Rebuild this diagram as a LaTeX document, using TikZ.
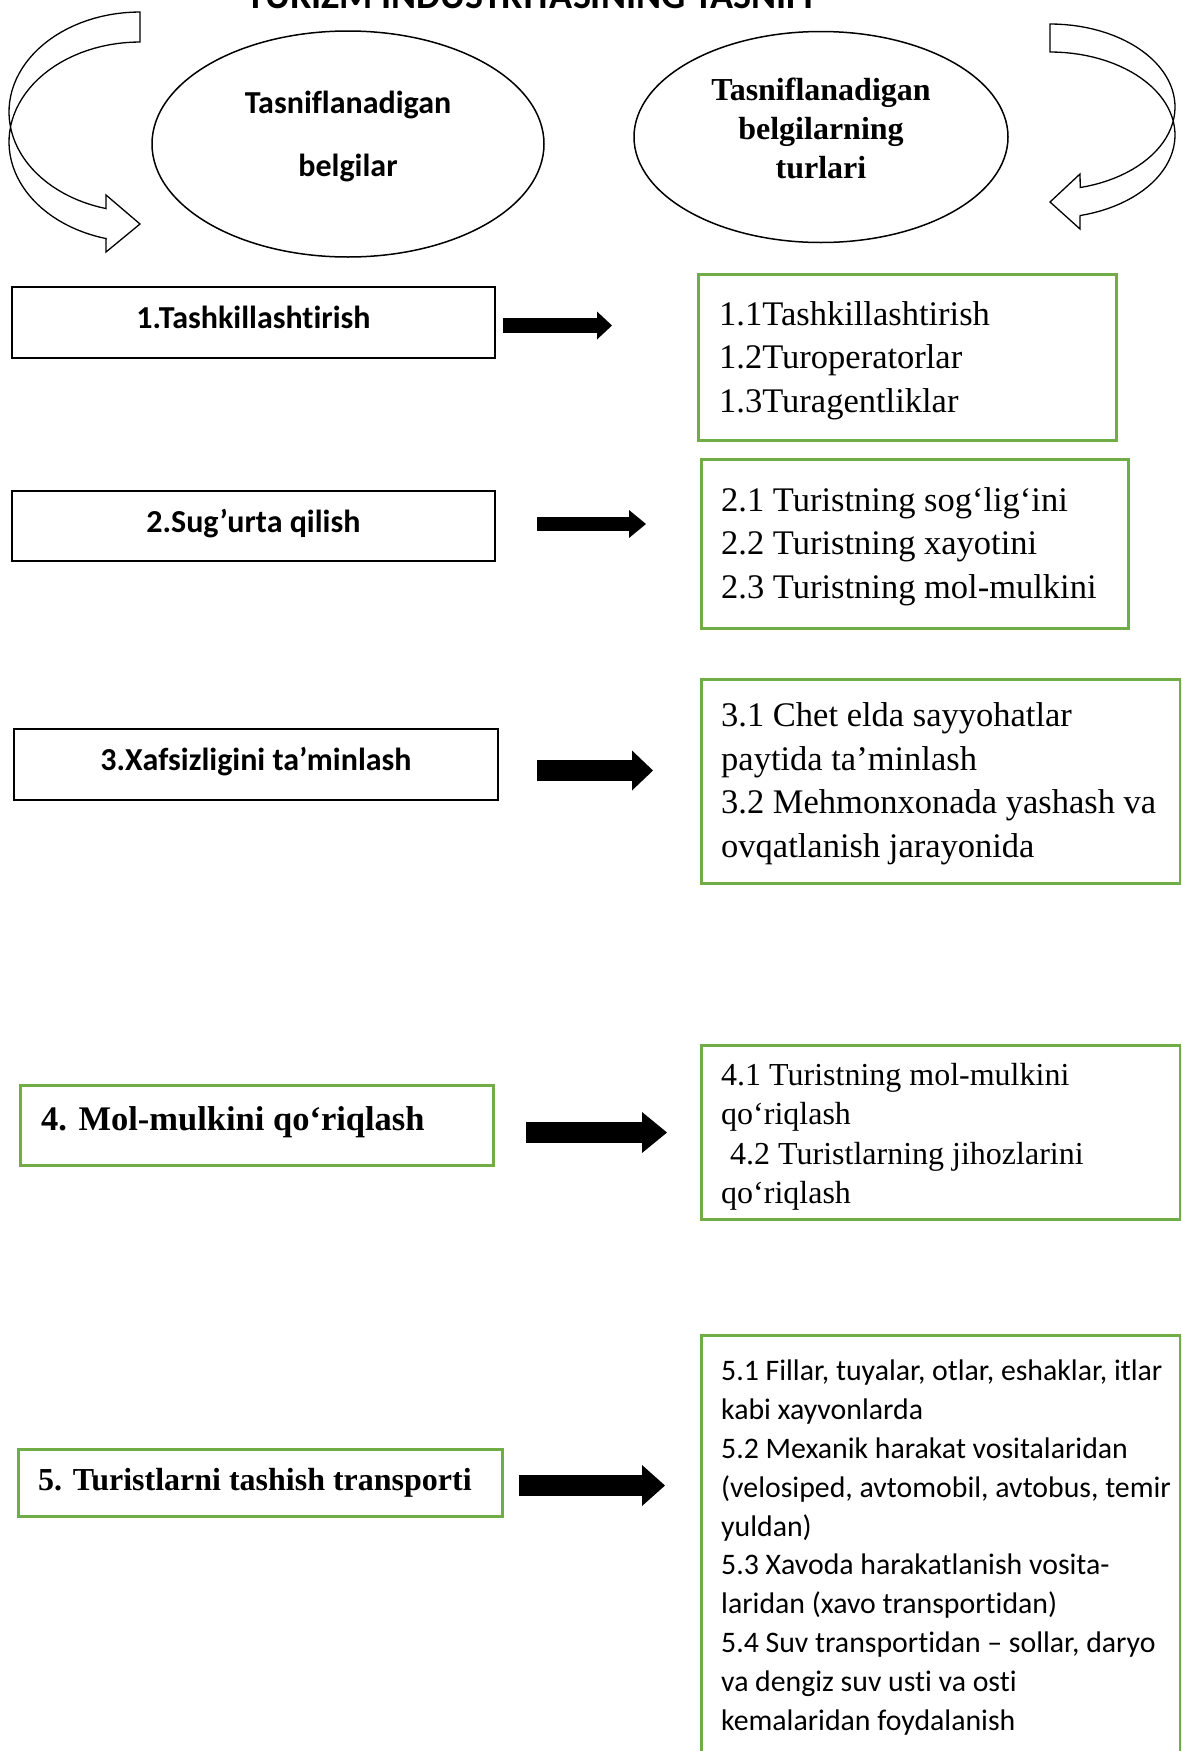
\documentclass[tikz,border=0pt]{standalone}
\usepackage{fontspec}
\setmainfont{Liberation Serif}[Ligatures=NoCommon]
\newfontfamily\calibri{Carlito}[Ligatures=NoCommon]
\usetikzlibrary{shapes.geometric,arrows.meta,positioning}
\definecolor{grn}{HTML}{70AD47}
\tikzset{
	oval/.style={ellipse, draw, line width=1.5},
	mainbox/.style={draw, line width=1.8, anchor=north west, text height=22pt, text depth=9.6pt, font=\calibri\bfseries\fontsize{32}{38}\selectfont},
	grnbox/.style={draw=grn, line width=2.6, anchor=north west},
	item/.style={align=left, inner sep=0pt},
	blockarr/.style n args={3}{line width=#1, -{Triangle[length=#2, width=#3, line width=0pt 0 0]}}
}
\begin{document}
\begin{tikzpicture}[>=stealth,x=1pt,y=-1pt]
			\useasboundingbox (0,0) rectangle (1181,1751);
			\clip (0,0) rectangle (1181,1751);
			% sarlavha (yuqori qismi kesilgan)
			\node[font=\calibri\bfseries\fontsize{38}{44}\selectfont, anchor=base] (title) at (530,8) {TURIZM INDUSTRIYASINING TASNIFI};
			% ovallar
			\node[oval, minimum width=392, minimum height=226] (e1) at (348,144) {};
			\node[item, align=center, font=\calibri\bfseries\fontsize{32}{63}\selectfont] (e1t) at ([yshift=8pt]e1.center) {Tasniflanadigan\\belgilar};
			\node[oval, minimum width=374, minimum height=211] (e2) at (821,137) {};
			\node[item, align=center, font=\bfseries\fontsize{32}{39}\selectfont] (e2t) at ([yshift=9pt]e2.center) {Tasniflanadigan\\belgilarning\\turlari};
			% egri strelkalar
			\draw[line width=1.3] plot[domain=90:255, samples=50, variable=\t] ({140+131*cos(\t)},{112-100*sin(\t)})
				-- (106,195) -- (140,224) -- (106,252) -- (106,238)
				-- plot[domain=255:90, samples=50, variable=\t] ({140+131*cos(\t)},{142-100*sin(\t)}) -- cycle;
			\draw[line width=1.3] plot[domain=90:-76, samples=50, variable=\t] ({1050+125*cos(\t)},{107-83*sin(\t)})
				-- (1080,174) -- (1050,202) -- (1080,229) -- (1080,216)
				-- plot[domain=-76:90, samples=50, variable=\t] ({1050+125*cos(\t)},{135-83*sin(\t)}) -- cycle;
			% chap ustun
			\node[mainbox, minimum width=483, minimum height=71] (k1) at (11,286) {1.Tashkillashtirish};
			\node[mainbox, minimum width=483, minimum height=70] (k2) at (11,490) {2.Sug’urta qilish};
			\node[mainbox, minimum width=484, minimum height=71] (k3) at (13,728) {3.Xafsizligini ta’minlash};
			\node[grnbox, minimum width=473, minimum height=80] (k4) at (19,1084) {};
			\node[item, font=\bfseries\fontsize{34.5}{40}\selectfont, right=22pt of k4.west, yshift=3pt] (k4t) {4. Mol-mulkini qo‘riqlash};
			\node[grnbox, minimum width=484, minimum height=67] (k5) at (17,1448) {};
			\node[item, font=\bfseries\fontsize{32}{38}\selectfont, right=21pt of k5.west] (k5t) {5. Turistlarni tashish transporti};
			% o'ng ustun
			\node[grnbox, minimum width=418, minimum height=166] (r1) at (697,273) {};
			\node[item, font=\fontsize{34.5}{43.5}\selectfont, right=22pt of r1.west, yshift=-3pt] (r1t) {1.1Tashkillashtirish\\1.2Turoperatorlar\\1.3Turagentliklar};
			\node[grnbox, minimum width=427, minimum height=169] (r2) at (700,458) {};
			\node[item, font=\fontsize{34.5}{43.5}\selectfont, right=21pt of r2.west, yshift=-2.5pt] (r2t) {2.1 Turistning sog‘lig‘ini\\2.2 Turistning xayotini\\2.3 Turistning mol-mulkini};
			\node[grnbox, minimum width=479, minimum height=204] (r3) at (700,678) {};
			\node[item, font=\fontsize{34.5}{43.5}\selectfont, right=21pt of r3.west, yshift=-2.5pt] (r3t) {3.1 Chet elda sayyohatlar\\paytida ta’minlash\\3.2 Mehmonxonada yashash va\\ovqatlanish jarayonida};
			\node[grnbox, minimum width=479, minimum height=174] (r4) at (700,1044) {};
			\node[item, font=\fontsize{32}{39.5}\selectfont, right=21pt of r4.west, yshift=-4.5pt] (r4t) {4.1 Turistning mol-mulkini\\qo‘riqlash\\\hspace*{9pt}4.2 Turistlarning jihozlarini\\qo‘riqlash};
			\node[grnbox, minimum width=479, minimum height=440] (r5) at (700,1334) {};
			\node[item, font=\calibri\fontsize{29.8}{38.8}\selectfont, below right=26pt and 21pt of r5.north west] (r5t) {5.1 Fillar, tuyalar, otlar, eshaklar, itlar\\kabi xayvonlarda\\5.2 Mexanik harakat vositalaridan\\(velosiped, avtomobil, avtobus, temir\\yuldan)\\5.3 Xavoda harakatlanish vosita-\\laridan (xavo transportidan)\\5.4 Suv transportidan – sollar, daryo\\va dengiz suv usti va osti\\kemalaridan foydalanish};
			% qora strelkalar
			\coordinate (a1s) at (503,325.5); \coordinate (a1e) at (612,325.5);
			\coordinate (a2s) at (537,524); \coordinate (a2e) at (646,524);
			\coordinate (a3s) at (537,770.5); \coordinate (a3e) at (653,770.5);
			\coordinate (a4s) at (526,1132.5); \coordinate (a4e) at (667,1132.5);
			\coordinate (a5s) at (519,1485.5); \coordinate (a5e) at (665,1485.5);
			\draw[blockarr={15}{15pt}{28pt}] (a1s) -- (a1e);
			\draw[blockarr={14}{17pt}{28pt}] (a2s) -- (a2e);
			\draw[blockarr={21}{21pt}{40pt}] (a3s) -- (a3e);
			\draw[blockarr={21}{25pt}{41pt}] (a4s) -- (a4e);
			\draw[blockarr={21}{23pt}{41pt}] (a5s) -- (a5e);
	\end{tikzpicture}
\end{document}
